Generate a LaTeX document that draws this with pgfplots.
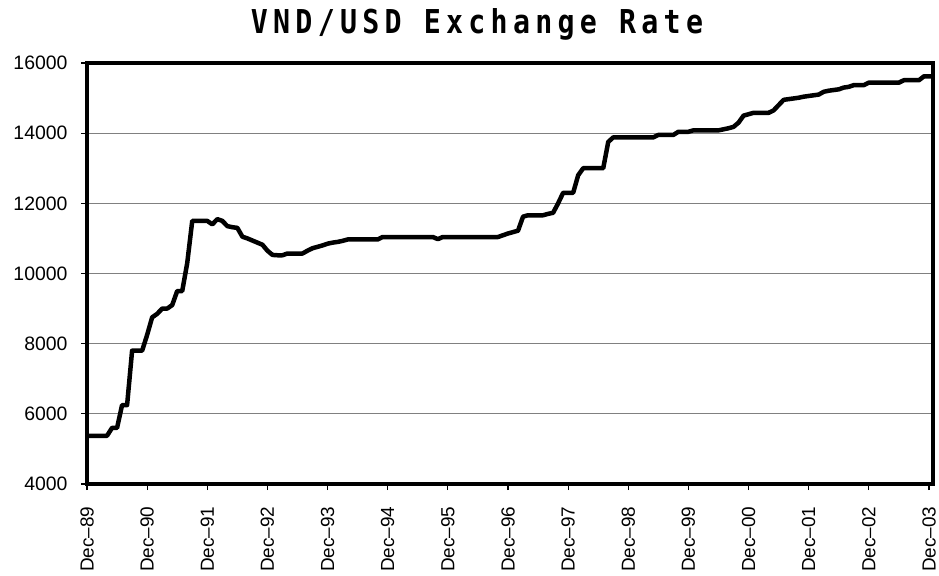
\documentclass[border=0pt]{standalone}
\usepackage{fontspec}
\setmainfont{Liberation Sans}
\newfontfamily\titlefont[LetterSpace=16, FakeStretch=0.86]{DejaVu Sans Mono}
\usepackage{pgfplots}
\usepackage{pgfplotstable}
\pgfplotsset{compat=1.18}

% month index (0 = Dec-89), VND per USD
\pgfplotstableread{
m rate
0 5375
1 5375
2 5375
3 5375
4 5375
5 5600
6 5600
7 6250
8 6250
9 7800
10 7800
11 7800
12 8250
13 8750
14 8850
15 9000
16 9000
17 9100
18 9500
19 9500
20 10300
21 11500
22 11500
23 11500
24 11500
25 11400
26 11550
27 11500
28 11350
29 11320
30 11300
31 11050
32 11000
33 10940
34 10880
35 10820
36 10650
37 10530
38 10520
39 10520
40 10570
41 10570
42 10570
43 10570
44 10650
45 10720
46 10760
47 10800
48 10850
49 10880
50 10900
51 10930
52 10970
53 10970
54 10970
55 10970
56 10970
57 10970
58 10970
59 11040
60 11040
61 11040
62 11040
63 11040
64 11040
65 11040
66 11040
67 11040
68 11040
69 11040
70 10980
71 11040
72 11040
73 11040
74 11040
75 11040
76 11040
77 11040
78 11040
79 11040
80 11040
81 11040
82 11040
83 11090
84 11140
85 11180
86 11220
87 11620
88 11660
89 11660
90 11660
91 11660
92 11700
93 11730
94 12000
95 12300
96 12300
97 12300
98 12800
99 13000
100 13000
101 13000
102 13000
103 13000
104 13750
105 13880
106 13880
107 13880
108 13880
109 13880
110 13880
111 13880
112 13880
113 13880
114 13950
115 13950
116 13950
117 13950
118 14040
119 14040
120 14040
121 14080
122 14080
123 14080
124 14080
125 14080
126 14080
127 14110
128 14140
129 14180
130 14300
131 14500
132 14540
133 14580
134 14580
135 14580
136 14580
137 14650
138 14800
139 14950
140 14970
141 14990
142 15010
143 15040
144 15060
145 15080
146 15100
147 15180
148 15210
149 15230
150 15250
151 15300
152 15320
153 15370
154 15370
155 15370
156 15440
157 15440
158 15440
159 15440
160 15440
161 15440
162 15440
163 15510
164 15510
165 15510
166 15510
167 15620
168 15620
169 15620
}\vndrate

\begin{document}
\begin{tikzpicture}
\path[use as bounding box] (-87bp,-92bp) rectangle (852bp,484bp);
\begin{axis}[
  at={(0,0)}, anchor=south west,
  scale only axis, width=846bp, height=421bp,
  xmin=0, xmax=168.8, ymin=4000, ymax=16000,
  xtick={0,12,...,168},
  xticklabels={Dec--89,Dec--90,Dec--91,Dec--92,Dec--93,Dec--94,Dec--95,
    Dec--96,Dec--97,Dec--98,Dec--99,Dec--00,Dec--01,Dec--02,Dec--03},
  ytick={4000,6000,...,16000},
  scaled y ticks=false,
  ymajorgrids, grid style={draw=black!50, line width=0.8bp},
  axis line style={line width=3.5bp},
  tick align=outside, tick pos=left, major tick length=6bp,
  tick style={black, line width=1.2bp},
  yticklabel style={font=\fontsize{19.5}{19.5}\selectfont},
  yticklabel shift=10bp,
  xticklabel style={rotate=90, anchor=east, font=\fontsize{19}{19}\selectfont},
  xticklabel shift=13bp,
  /pgf/number format/assume math mode=true,
  /pgf/number format/1000 sep={},
  title={VND/USD Exchange Rate},
  title style={font=\titlefont\bfseries\fontsize{33}{33}\selectfont, anchor=base,
    at={(0.461,1)}, yshift=24bp},
]
\addplot[black, line width=4.5bp, line join=round] table[x=m, y=rate] {\vndrate};
\end{axis}
\end{tikzpicture}
\end{document}
